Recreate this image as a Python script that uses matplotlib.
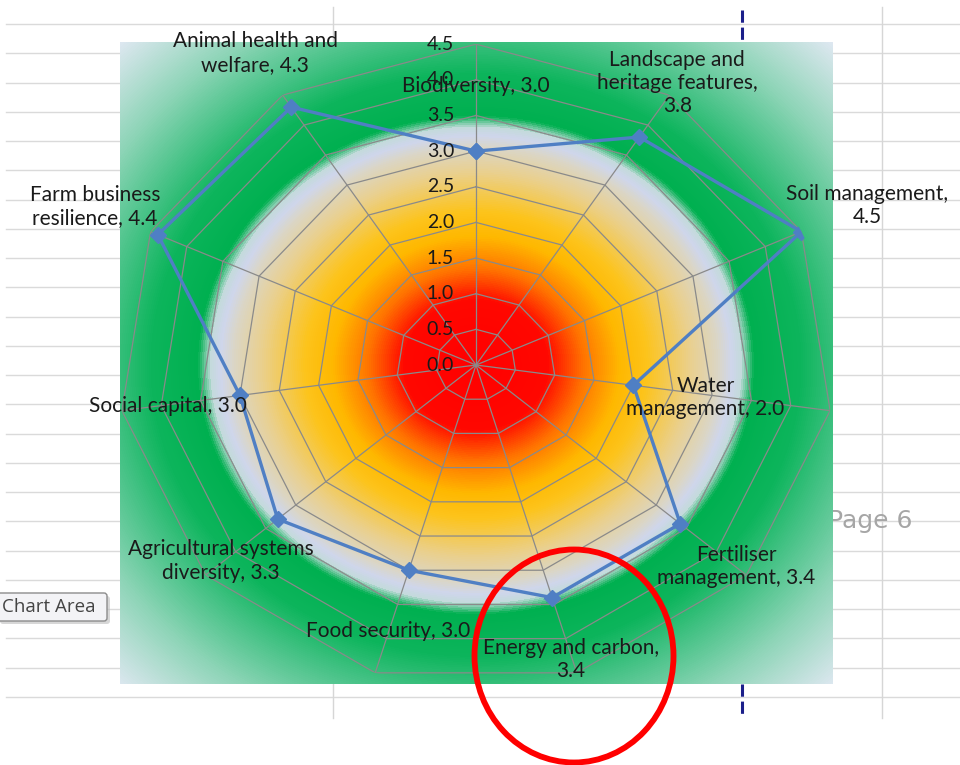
import numpy as np
import matplotlib
matplotlib.use("Agg")
import matplotlib.pyplot as plt
from matplotlib.colors import LinearSegmentedColormap
from matplotlib.patches import Ellipse, FancyBboxPatch

# data
categories = ["Biodiversity", "Landscape and\nheritage features", "Soil management",
              "Water\nmanagement", "Fertiliser\nmanagement", "Energy and carbon",
              "Food security", "Agricultural systems\ndiversity", "Social capital",
              "Farm business\nresilience", "Animal health and\nwelfare"]
label_sep = [", ", ",\n", ",\n", ", ", ", ", ",\n", ", ", ", ", ", ", ", ", ", "]
values = [3.0, 3.8, 4.5, 2.0, 3.4, 3.4, 3.0, 3.3, 3.0, 4.4, 4.3]
r_ticks = [0.0, 0.5, 1.0, 1.5, 2.0, 2.5, 3.0, 3.5, 4.0, 4.5]

# where each data label sits relative to its point (pixels)
label_off = [(0, 65), (38, 54), (66, 26), (72, -12), (56, -43), (19, -62),
             (-21, -61), (-57, -42), (-72, -11), (-63, 28), (-36, 54)]

W, H = 960, 765
cx, cy = 476, 365          # chart centre in pixels
sx, sy = 79.5, 71.3        # pixels per unit, screenshot is a bit stretched
rmax = 4.5
font = "Lato"
txt_col = "#1a1a1a"

fig = plt.figure(figsize=(W / 100, H / 100), dpi=100)

# ---- spreadsheet behind the chart
back = fig.add_axes([0, 0, 1, 1], zorder=0)
back.set_xlim(0, W)
back.set_ylim(H, 0)
back.axis("off")
for k in range(24):
    y = 24 + k * 29.26
    back.plot([6, W], [y, y], color="#dadada", lw=1)
for x in [333, 882]:
    back.plot([x, x], [7, 718], color="#d6d6d6", lw=1)
for y0, y1 in [(10, 42), (684, 718)]:
    back.plot([742, 742], [y0, y1], color="#1b1f8a", lw=2.2, dashes=(4, 1.6))
back.text(913, 521, "Page 6", color="#a6a6a6", fontsize=18, family="DejaVu Sans",
          ha="right", va="center")

# ---- gradient fill of the chart area
x0, x1 = (120 - cx) / sx, (833 - cx) / sx
y0, y1 = (cy - 684) / sy, (cy - 42) / sy
bg = fig.add_axes([120 / W, (H - 684) / H, 713 / W, 642 / H], zorder=1)
gx, gy = np.meshgrid(np.linspace(x0, x1, 713), np.linspace(y1, y0, 642))
rr = np.hypot(gx, gy)
stops = [(0.0, "#ff0000"), (0.9, "#ff0800"), (1.35, "#ff7400"), (1.8, "#ffb800"),
         (2.15, "#fdc41c"), (2.7, "#ead08e"), (3.05, "#dbd6c6"), (3.22, "#cfd6ec"),
         (3.34, "#c4dbdc"), (3.5, "#00b050"), (4.1, "#0db55c"), (4.6, "#40c182"),
         (5.4, "#8fd5b8"), (6.4, "#e0e8f2")]
cmap = LinearSegmentedColormap.from_list("bgfill", [(r / 6.4, c) for r, c in stops])
bg.imshow(rr, cmap=cmap, vmin=0, vmax=6.4, extent=[x0, x1, y0, y1], aspect="auto",
          interpolation="bilinear")
bg.axis("off")

# ---- the radar itself
ax = fig.add_axes([(cx - rmax * sx) / W, (H - cy - rmax * sy) / H,
                   2 * rmax * sx / W, 2 * rmax * sy / H],
                  projection="polar", zorder=2)
ax.set_aspect("auto")
ax.set_theta_zero_location("N")
ax.set_theta_direction(-1)
ax.set_ylim(0, rmax)
ax.grid(False)
ax.set_xticks([])
ax.set_yticks([])
ax.spines["polar"].set_visible(False)
ax.patch.set_alpha(0)

n = len(categories)
ang = np.arange(n) * 2 * np.pi / n
ang_c = np.append(ang, ang[0])

for lv in r_ticks[1:]:
    ax.plot(ang_c, [lv] * (n + 1), color="#8a8a8a", lw=0.9, zorder=1)
for a in ang:
    ax.plot([a, a], [0, rmax], color="#8a8a8a", lw=0.9, zorder=1)

ax.plot(ang_c, values + values[:1], color="#4f7fc4", lw=2.4, marker="D", ms=8,
        zorder=3)

for lv in r_ticks:
    ax.annotate(f"{lv:.1f}", xy=(0, lv), xytext=(-22, 0), textcoords="offset pixels",
                ha="right", va="center", fontsize=14, family=font, color=txt_col,
                annotation_clip=False, zorder=4)

for a, v, name, sep, off in zip(ang, values, categories, label_sep, label_off):
    ax.annotate(f"{name}{sep}{v:.1f}", xy=(a, v), xytext=off, textcoords="offset pixels",
                ha="center", va="center", fontsize=15, family=font, color=txt_col,
                linespacing=1.2, annotation_clip=False, zorder=4)

# ---- things on top: tooltip and red circle
front = fig.add_axes([0, 0, 1, 1], zorder=3)
front.set_xlim(0, W)
front.set_ylim(H, 0)
front.axis("off")
front.patch.set_alpha(0)
front.add_patch(FancyBboxPatch((0, 596), 110, 28, boxstyle="round,pad=0,rounding_size=3",
                               fc="#bdbdbd", ec="none", alpha=0.6))
front.add_patch(FancyBboxPatch((-3, 593), 110, 28, boxstyle="round,pad=0,rounding_size=3",
                               fc="#f3f3f6", ec="#8c8c8c", lw=1))
front.text(2, 607, "Chart Area", fontsize=13.5, family="Open Sans", color="#444444",
           va="center", ha="left")
front.add_patch(Ellipse((574, 656), 199, 213, fill=False, ec="#ff0000", lw=4.2))

fig.savefig("out.png", dpi=100)
